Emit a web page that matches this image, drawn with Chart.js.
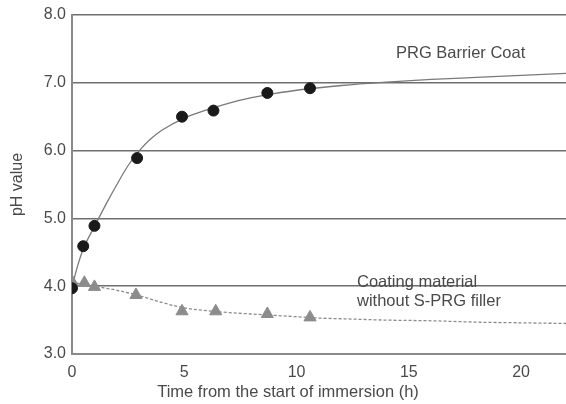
<!DOCTYPE html>
<html>
<head>
<meta charset="utf-8">
<script src="https://cdn.jsdelivr.net/npm/chart.js@4"></script>
<style>
  html, body { margin: 0; padding: 0; background: #fff; }
  #wrap { width: 566px; height: 404px; }
</style>
</head>
<body>
<div id="wrap"><canvas id="c" width="566" height="404"></canvas></div>
<script>
// ---- data ----
const prgHours   = [0, 0.5, 1, 2.9, 4.9, 6.3, 8.7, 10.6];
const prgPH      = [3.97, 4.59, 4.89, 5.89, 6.5, 6.59, 6.85, 6.92];
const ctrlHours  = [0, 0.55, 1, 2.85, 4.9, 6.4, 8.7, 10.6];
const ctrlPH     = [4.07, 4.05, 3.99, 3.87, 3.63, 3.63, 3.59, 3.54];

// fitted curves
const prgCurveHours = [0, 0.25, 0.5, 1, 1.5, 2, 2.5, 3, 3.5, 4, 5, 6, 7, 8, 9, 10, 12, 14, 16, 18, 20, 22];
const prgCurvePH    = [3.99, 4.3, 4.55, 4.88, 5.2, 5.5, 5.78, 6.0, 6.17, 6.3, 6.48, 6.6, 6.7, 6.78, 6.84, 6.89, 6.96, 7.01, 7.05, 7.08, 7.11, 7.14];
const ctrlCurveHours = [0, 1, 2, 3, 4, 5, 6, 7, 8, 9, 10, 11, 12, 14, 16, 18, 20, 22];
const ctrlCurvePH    = [4.06, 4.0, 3.94, 3.86, 3.76, 3.68, 3.64, 3.61, 3.59, 3.57, 3.55, 3.53, 3.52, 3.5, 3.49, 3.47, 3.46, 3.45];

const xTicks = [0, 5, 10, 15, 20];
const yTicks = [3, 4, 5, 6, 7, 8];
const xTitle = 'Time from the start of immersion (h)';
const yTitle = 'pH value';
const prgLabel = 'PRG Barrier Coat';
const ctrlLabel = ['Coating material', 'without S-PRG filler'];

// ---- build chart ----
const pts = (xs, ys) => xs.map((x, i) => ({ x: x, y: ys[i] }));
const FONT = '"Liberation Sans", Arial, Helvetica, sans-serif';
const TEXT = '#4a4a4a';

const textPlugin = {
  id: 'texts',
  afterDraw(chart) {
    const ctx = chart.ctx;
    ctx.save();
    ctx.fillStyle = TEXT;
    ctx.font = '16.5px ' + FONT;
    ctx.textBaseline = 'middle';
    ctx.textAlign = 'left';
    ctx.fillText(prgLabel, 396, 53);
    ctx.fillText(ctrlLabel[0], 357, 282);
    ctx.fillText(ctrlLabel[1], 357, 301);
    ctx.textAlign = 'center';
    ctx.fillText(xTitle, 288, 392);
    ctx.restore();
  }
};

new Chart(document.getElementById('c'), {
  type: 'scatter',
  data: {
    datasets: [
      {
        label: 'PRG curve',
        data: pts(prgCurveHours, prgCurvePH),
        showLine: true,
        borderColor: '#7a7a7a',
        borderWidth: 1.3,
        pointRadius: 0,
        cubicInterpolationMode: 'monotone',
        order: 3
      },
      {
        label: 'Control curve',
        data: pts(ctrlCurveHours, ctrlCurvePH),
        showLine: true,
        borderColor: '#8a8a8a',
        borderWidth: 1.3,
        borderDash: [3, 2],
        pointRadius: 0,
        cubicInterpolationMode: 'monotone',
        order: 4
      },
      {
        label: 'Coating material without S-PRG filler',
        data: pts(ctrlHours, ctrlPH),
        pointStyle: 'triangle',
        pointRadius: 7,
        backgroundColor: '#8c8c8c',
        borderColor: '#8c8c8c',
        borderWidth: 1,
        order: 2
      },
      {
        label: 'PRG Barrier Coat',
        data: pts(prgHours, prgPH),
        pointStyle: 'circle',
        pointRadius: 5.5,
        backgroundColor: '#1a1a1a',
        borderColor: '#1a1a1a',
        borderWidth: 1,
        order: 1
      }
    ]
  },
  options: {
    responsive: false,
    animation: false,
    events: [],
    layout: { autoPadding: false, padding: { top: 15, left: 0, right: 0, bottom: 0 } },
    plugins: { legend: { display: false }, tooltip: { enabled: false } },
    scales: {
      x: {
        type: 'linear',
        min: 0,
        max: 22,
        afterBuildTicks(scale) { scale.ticks = xTicks.map(v => ({ value: v })); },
        afterFit(scale) { scale.height = 50; scale.paddingRight = 0; },
        grid: { display: false, drawTicks: false },
        border: { display: true, color: '#8a8a8a', width: 2 },
        ticks: {
          padding: 9,
          color: TEXT,
          font: { family: FONT, size: 16 },
          maxRotation: 0,
          autoSkip: false
        },
        title: { display: false }
      },
      y: {
        type: 'linear',
        min: 3,
        max: 8,
        afterBuildTicks(scale) { scale.ticks = yTicks.map(v => ({ value: v })); },
        afterFit(scale) { scale.width = 72; scale.paddingTop = 0; scale.paddingBottom = 0; },
        grid: { display: true, color: '#6e6e6e', lineWidth: 1.5, drawTicks: false },
        border: { display: true, color: '#8a8a8a', width: 2 },
        ticks: {
          padding: 6,
          color: TEXT,
          font: { family: FONT, size: 16 },
          callback: v => Number(v).toFixed(1)
        },
        title: {
          display: true,
          text: yTitle,
          color: TEXT,
          font: { family: FONT, size: 16 },
          padding: { top: 8, bottom: 0 }
        }
      }
    }
  },
  plugins: [textPlugin]
});
</script>
</body>
</html>
